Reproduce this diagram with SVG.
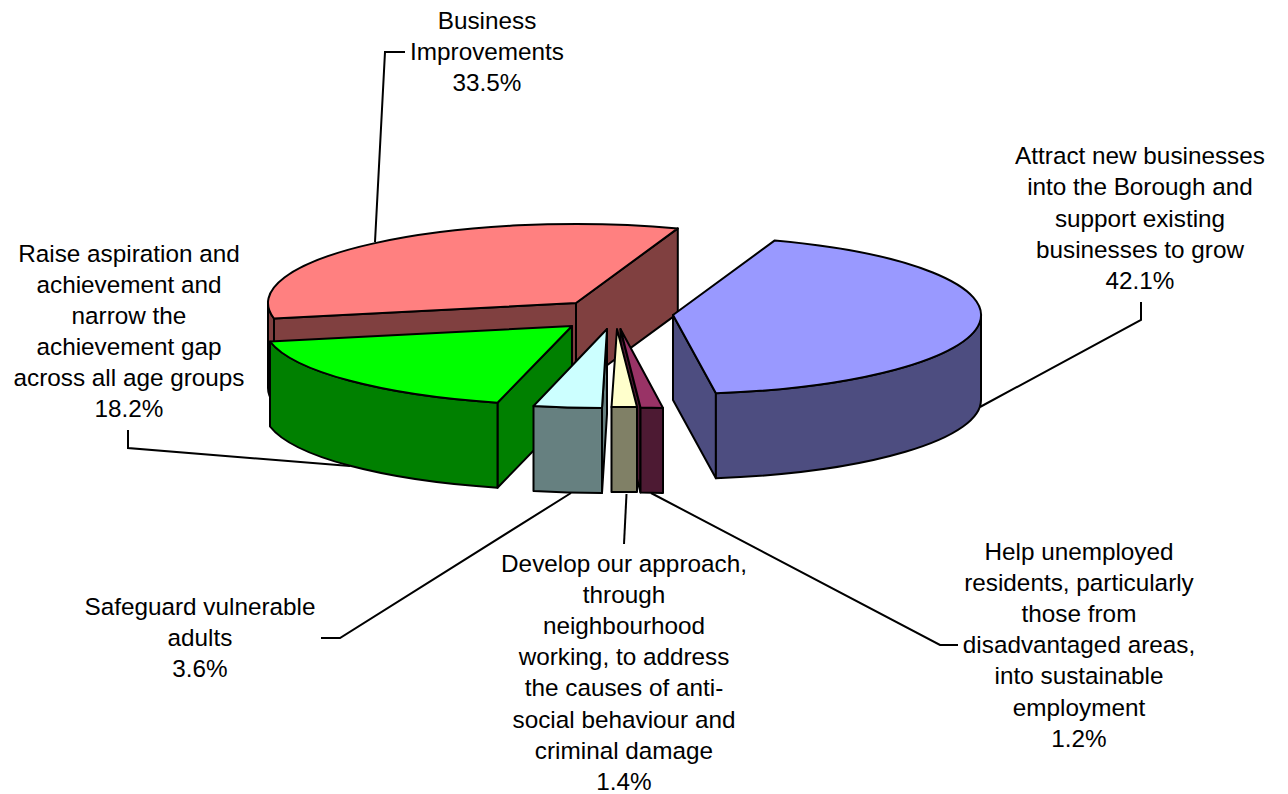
<svg xmlns="http://www.w3.org/2000/svg" width="1288" height="794" viewBox="0 0 1288 794">
<style>
.s{stroke:#000;stroke-width:2;stroke-linejoin:round}
.ld{fill:none;stroke:#000;stroke-width:2}
.lbl{font-family:"Liberation Sans",Arial,sans-serif;font-size:24.3px;fill:#000;text-anchor:middle}
</style>
<rect width="1288" height="794" fill="#fff"/>
<g id="connectors">
<polyline class="ld" points="375,242 385,52 405,52"/>
<polyline class="ld" points="128,430 128,448 350,466"/>
<polyline class="ld" points="1141,302 1141,320 980,407"/>
<polyline class="ld" points="321,638 340,638 571,493"/>
<polyline class="ld" points="626.5,494 624,544"/>
<polyline class="ld" points="651,493 940,645 958,645"/>
</g>
<g id="node-business">
<path class="s" fill="#804040" d="M576,303 L274,318.5 L274,403.5 L576,388 Z"/>
<path class="s" fill="#804040" d="M576,303 L677.8,228.4 L677.8,313.4 L576,388 Z"/>
<path class="s" fill="#804040" d="M274,318.5 A308,79 0 0 1 268,303 L268,388 A308,79 0 0 0 274,403.5 Z"/>
<path class="s" fill="#FF8080" d="M576,303 L274,318.5 A308,79 0 0 1 677.8,228.4 Z"/>
<text class="lbl"><tspan x="487" y="29">Business</tspan><tspan x="487" y="60">Improvements</tspan><tspan x="487" y="91">33.5%</tspan></text>
</g>
<g id="node-raise">
<path class="s" fill="#008000" d="M572,326 L497.5,402.7 L497.5,487.7 L572,411 Z"/>
<path class="s" fill="#008000" d="M497.5,402.7 A308,79 0 0 1 270,341.5 L270,426.5 A308,79 0 0 0 497.5,487.7 Z"/>
<path class="s" fill="#00FF00" d="M572,326 L497.5,402.7 A308,79 0 0 1 270,341.5 Z"/>
<text class="lbl"><tspan x="129" y="262">Raise aspiration and</tspan><tspan x="129" y="293">achievement and</tspan><tspan x="129" y="324">narrow the</tspan><tspan x="129" y="355">achievement gap</tspan><tspan x="129" y="386">across all age groups</tspan><tspan x="129" y="417">18.2%</tspan></text>
</g>
<g id="node-attract">
<path class="s" fill="#4D4D80" d="M673,315 L715.9,393.2 L715.9,478.2 L673,400 Z"/>
<path class="s" fill="#4D4D80" d="M981,315 A308,79 0 0 1 715.9,393.2 L715.9,478.2 A308,79 0 0 0 981,400 Z"/>
<path class="s" fill="#9999FF" d="M673,315 L774.8,240.4 A308,79 0 0 1 715.9,393.2 Z"/>
<text class="lbl"><tspan x="1140" y="164">Attract new businesses</tspan><tspan x="1140" y="195.3">into the Borough and</tspan><tspan x="1140" y="226.6">support existing</tspan><tspan x="1140" y="258">businesses to grow</tspan><tspan x="1140" y="289.3">42.1%</tspan></text>
</g>
<g id="node-safeguard">
<path class="s" fill="#668080" d="M607,329 L602,408 L602,493 L607,414 Z"/>
<path class="s" fill="#668080" d="M602,408 A308,79 0 0 1 533.5,406 L533.5,491 A308,79 0 0 0 602,493 Z"/>
<path class="s" fill="#CCFFFF" d="M607,329 L602,408 A308,79 0 0 1 533.5,406 Z"/>
<text class="lbl"><tspan x="200" y="615">Safeguard vulnerable</tspan><tspan x="200" y="646">adults</tspan><tspan x="200" y="677">3.6%</tspan></text>
</g>
<g id="node-help">
<path class="s" fill="#4D1A33" d="M620.5,329 L640.5,407.5 L640.5,492.5 L620.5,414 Z"/>
<path class="s" fill="#4D1A33" d="M663,408 A308,79 0 0 1 640.5,407.5 L640.5,492.5 A308,79 0 0 0 663,493 Z"/>
<path class="s" fill="#993366" d="M620.5,329 L663,408 A308,79 0 0 1 640.5,407.5 Z"/>
<text class="lbl"><tspan x="1079" y="560">Help unemployed</tspan><tspan x="1079" y="591.1">residents, particularly</tspan><tspan x="1079" y="622.2">those from</tspan><tspan x="1079" y="653.3">disadvantaged areas,</tspan><tspan x="1079" y="684.4">into sustainable</tspan><tspan x="1079" y="715.5">employment</tspan><tspan x="1079" y="746.6">1.2%</tspan></text>
</g>
<g id="node-develop">
<path class="s" fill="#808066" d="M637,407 A308,79 0 0 1 611.5,407 L611.5,492 A308,79 0 0 0 637,492 Z"/>
<path class="s" fill="#FFFFCC" d="M617,329 L637,407 A308,79 0 0 1 611.5,407 Z"/>
<text class="lbl"><tspan x="624" y="571.5">Develop our approach,</tspan><tspan x="624" y="602.7">through</tspan><tspan x="624" y="633.9">neighbourhood</tspan><tspan x="624" y="665.1">working, to address</tspan><tspan x="624" y="696.3">the causes of anti-</tspan><tspan x="624" y="727.5">social behaviour and</tspan><tspan x="624" y="758.7">criminal damage</tspan><tspan x="624" y="789.9">1.4%</tspan></text>
</g>
</svg>
